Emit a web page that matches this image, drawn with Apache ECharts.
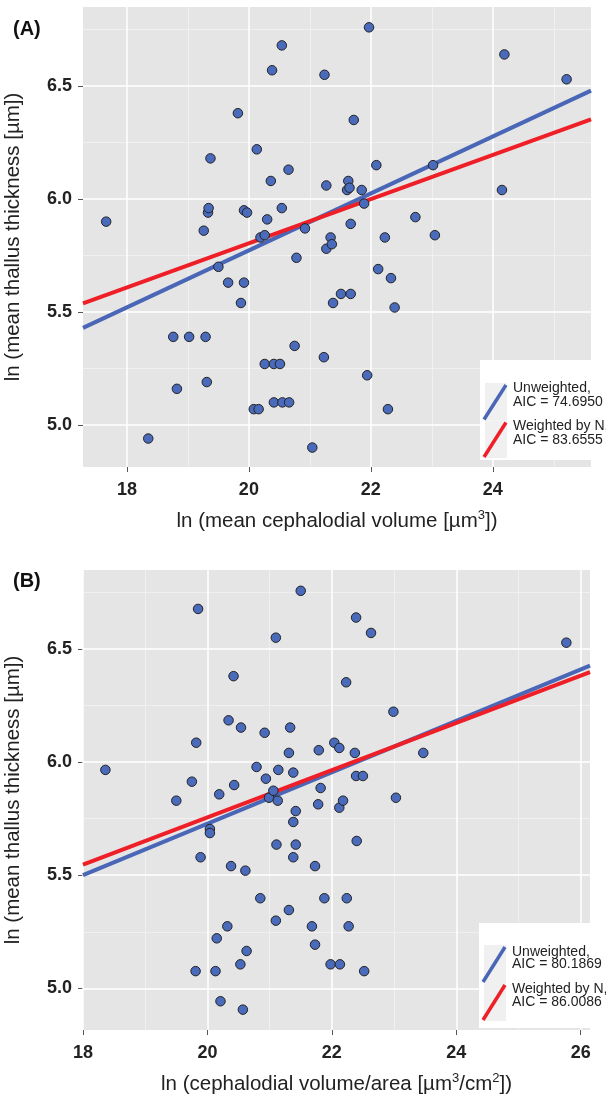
<!DOCTYPE html>
<html>
<head>
<meta charset="utf-8">
<script src="https://cdn.jsdelivr.net/npm/echarts@6/dist/echarts.min.js"></script>
<style>
  html, body { margin: 0; padding: 0; background: #fff; }
  #main { width: 606px; height: 1100px; }
</style>
</head>
<body>
<div id="main"></div>
<script>
// panel A: ln(mean cephalodial volume) vs ln(mean thallus thickness)
var pointsA = [
  [17.66, 5.90], [18.35, 4.94], [18.76, 5.39], [18.82, 5.16], [19.02, 5.39],
  [19.29, 5.39], [19.31, 5.19], [19.26, 5.86], [19.33, 5.94], [19.34, 5.96],
  [19.37, 6.18], [19.50, 5.70], [19.66, 5.63], [19.82, 6.38], [19.87, 5.54],
  [19.92, 5.63], [19.92, 5.95], [19.97, 5.94], [20.08, 5.07], [20.13, 6.22],
  [20.16, 5.07], [20.19, 5.83], [20.26, 5.84], [20.26, 5.27], [20.30, 5.91],
  [20.36, 6.08], [20.38, 6.57], [20.41, 5.27], [20.41, 5.10], [20.51, 5.27],
  [20.54, 6.68], [20.54, 5.96], [20.55, 5.10], [20.65, 6.13], [20.66, 5.10],
  [20.75, 5.35], [20.78, 5.74], [20.92, 5.87], [21.04, 4.90], [21.23, 5.30],
  [21.24, 6.55], [21.27, 6.06], [21.27, 5.78], [21.34, 5.83], [21.36, 5.80],
  [21.38, 5.54], [21.51, 5.58], [21.61, 6.04], [21.63, 6.08], [21.65, 6.05],
  [21.67, 5.58], [21.67, 5.89], [21.72, 6.35], [21.85, 6.04], [21.89, 5.98],
  [21.94, 5.22], [21.97, 6.76], [22.09, 6.15], [22.12, 5.69], [22.23, 5.83],
  [22.28, 5.07], [22.33, 5.65], [22.39, 5.52], [22.73, 5.92], [23.02, 6.15],
  [23.05, 5.84], [24.15, 6.04], [24.19, 6.64], [25.21, 6.53]
];
// panel B: ln(cephalodial volume/area) vs ln(mean thallus thickness)
var pointsB = [
  [18.36, 5.965], [19.50, 5.829], [19.75, 5.913], [19.81, 5.076], [19.82, 6.085],
  [19.85, 6.676], [19.89, 5.579], [20.04, 5.704], [20.04, 5.686], [20.13, 5.076],
  [20.15, 5.221], [20.19, 5.857], [20.21, 4.943], [20.32, 5.274], [20.34, 6.184],
  [20.38, 5.540], [20.42, 6.379], [20.43, 5.898], [20.53, 5.106], [20.54, 6.152],
  [20.57, 4.906], [20.61, 5.520], [20.63, 5.165], [20.79, 5.978], [20.85, 5.398],
  [20.92, 6.129], [20.94, 5.926], [20.99, 5.842], [21.06, 5.873], [21.10, 5.299],
  [21.10, 6.549], [21.11, 5.635], [21.13, 5.829], [21.14, 5.965], [21.31, 5.346],
  [21.31, 6.040], [21.33, 6.152], [21.38, 5.953], [21.38, 5.735], [21.38, 5.579],
  [21.42, 5.783], [21.42, 5.635], [21.50, 6.756], [21.68, 5.274], [21.73, 5.540],
  [21.73, 5.193], [21.78, 5.813], [21.79, 6.052], [21.82, 5.885], [21.88, 5.398],
  [21.98, 5.106], [22.04, 6.085], [22.12, 5.798], [22.12, 6.062], [22.13, 5.106],
  [22.18, 5.829], [22.23, 6.352], [22.24, 5.398], [22.27, 5.274], [22.37, 6.040],
  [22.39, 5.938], [22.39, 6.638], [22.40, 5.651], [22.50, 5.938], [22.52, 5.076],
  [22.63, 6.570], [22.99, 6.222], [23.03, 5.842], [23.47, 6.040], [25.77, 6.527]
];
// fitted lines (end points at the plot edges)
var unweightedA = [[17.28, 5.43], [25.61, 6.48]];
var weightedA = [[17.28, 5.538], [25.61, 6.353]];
var unweightedB = [[18.0, 5.50], [26.15, 6.426]];
var weightedB = [[18.0, 5.547], [26.15, 6.397]];

var xTicksA = [18, 20, 22, 24];
var xMinorA = [19, 21, 23, 25];
var xTicksB = [18, 20, 22, 24, 26];
var xMinorB = [19, 21, 23, 25];
var yTicks = [5.0, 5.5, 6.0, 6.5];
var yMinor = [5.25, 5.75, 6.25, 6.75];

var legendA = ['Unweighted,', 'AIC = 74.6950', 'Weighted by N,', 'AIC = 83.6555'];
var legendB = ['Unweighted,', 'AIC = 80.1869', 'Weighted by N,', 'AIC = 86.0086'];

var FONT = 'Liberation Sans';
var BLUE = '#4a67b7';
var RED = '#ee1f26';
var PT = '#4a6bbb';

var myChart = echarts.init(document.getElementById('main'));

// 背景网格线 (ggplot 风格)
function gridLines(xMajor, xMinor) {
  var d = [];
  xMinor.forEach(function(v) { d.push({ xAxis: v, lineStyle: { color: '#f3f3f3', width: 0.8, type: 'solid' } }); });
  yMinor.forEach(function(v) { d.push({ yAxis: v, lineStyle: { color: '#f3f3f3', width: 0.8, type: 'solid' } }); });
  xMajor.forEach(function(v) { d.push({ xAxis: v, lineStyle: { color: '#ffffff', width: 1.5, type: 'solid' } }); });
  yTicks.forEach(function(v) { d.push({ yAxis: v, lineStyle: { color: '#ffffff', width: 1.5, type: 'solid' } }); });
  return { silent: true, symbol: 'none', z: 1, animation: false, label: { show: false }, emphasis: { disabled: true }, data: d };
}

function xAxis(gi, min, max, ticks, name) {
  return {
    type: 'value', gridIndex: gi, min: min, max: max,
    name: name, nameLocation: 'middle', nameGap: 42,
    nameTextStyle: { fontFamily: FONT, fontSize: 20.5, lineHeight: 24, color: '#222',
      rich: { sup: { fontFamily: FONT, fontSize: 13, color: '#222', verticalAlign: 'top', lineHeight: 12 } } },
    axisLine: { show: false }, splitLine: { show: false },
    axisTick: { show: true, length: 5, customValues: ticks, lineStyle: { color: '#555', width: 1 } },
    axisLabel: { customValues: ticks, margin: 14, fontFamily: FONT, fontSize: 18, fontWeight: 'bold', color: '#222',
      formatter: function(v) { return String(Math.round(v)); } }
  };
}

function yAxis(gi, min, max) {
  return {
    type: 'value', gridIndex: gi, min: min, max: max,
    name: 'ln (mean thallus thickness [µm])', nameLocation: 'middle', nameGap: 59,
    nameTextStyle: { fontFamily: FONT, fontSize: 20.5, color: '#222' },
    axisLine: { show: false }, splitLine: { show: false },
    axisTick: { show: true, length: 5, customValues: yTicks, lineStyle: { color: '#555', width: 1 } },
    axisLabel: { customValues: yTicks, margin: 11, fontFamily: FONT, fontSize: 18, fontWeight: 'bold', color: '#222',
      formatter: function(v) { return v.toFixed(1); } }
  };
}

function scatter(gi, data, xMajor, xMinor) {
  return {
    type: 'scatter', xAxisIndex: gi, yAxisIndex: gi, data: data, z: 3,
    symbolSize: 9.5, itemStyle: { color: PT, borderColor: '#222', borderWidth: 1, opacity: 1 },
    markLine: gridLines(xMajor, xMinor)
  };
}

function fit(gi, data, color) {
  return {
    type: 'line', xAxisIndex: gi, yAxisIndex: gi, data: data, z: 2,
    symbol: 'none', lineStyle: { color: color, width: 4 }, silent: true
  };
}

// 图例 (白底框 + 斜线)
function legendBox(x, y, h, keyTop, keyH, texts, textY) {
  var els = [
    { type: 'rect', z: 100, shape: { x: x, y: y, width: 591 - x, height: h }, style: { fill: '#fff' } },
    { type: 'rect', z: 101, shape: { x: x + 5, y: keyTop, width: 22, height: keyH }, style: { fill: '#f0f0f0' } },
    { type: 'rect', z: 101, shape: { x: x + 5, y: keyTop + keyH, width: 22, height: keyH }, style: { fill: '#f0f0f0' } },
    { type: 'line', z: 102, shape: { x1: x + 4, y1: keyTop + keyH - 1, x2: x + 26, y2: keyTop + 2 }, style: { stroke: BLUE, lineWidth: 3.5 } },
    { type: 'line', z: 102, shape: { x1: x + 4, y1: keyTop + 2 * keyH - 1, x2: x + 26, y2: keyTop + keyH + 2 }, style: { stroke: RED, lineWidth: 3.5 } }
  ];
  texts.forEach(function(t, i) {
    els.push({ type: 'text', z: 103, x: x + 33, y: textY[i],
      style: { text: t, fill: '#222', font: '14px "Liberation Sans"', verticalAlign: 'middle', align: 'left' } });
  });
  return { type: 'group', z: 100, children: els };
}

var option = {
  backgroundColor: '#fff',
  animation: false,
  title: [
    { text: '(A)', left: 8, top: 14, textStyle: { fontFamily: FONT, fontSize: 20, fontWeight: 'bold', color: '#111' } },
    { text: '(B)', left: 8, top: 566, textStyle: { fontFamily: FONT, fontSize: 20, fontWeight: 'bold', color: '#111' } }
  ],
  grid: [
    { left: 83, top: 7, width: 508, height: 460, show: true, backgroundColor: '#e5e5e6', borderWidth: 0, outerBoundsMode: 'none' },
    { left: 83, top: 570, width: 507, height: 460, show: true, backgroundColor: '#e5e5e6', borderWidth: 0, outerBoundsMode: 'none' }
  ],
  xAxis: [
    xAxis(0, 17.28, 25.61, xTicksA, 'ln (mean cephalodial volume [µm{sup|3}])'),
    xAxis(1, 18.0, 26.15, xTicksB, 'ln (cephalodial volume/area [µm{sup|3}/cm{sup|2}])')
  ],
  yAxis: [yAxis(0, 4.814, 6.85), yAxis(1, 4.816, 6.848)],
  series: [
    scatter(0, pointsA, xTicksA, xMinorA),
    fit(0, unweightedA, BLUE),
    fit(0, weightedA, RED),
    scatter(1, pointsB, xTicksB, xMinorB),
    fit(1, unweightedB, BLUE),
    fit(1, weightedB, RED)
  ],
  graphic: [
    legendBox(480, 360, 100, 383, 37.5, legendA, [388, 402, 426, 440]),
    legendBox(479, 923, 105, 945, 38, legendB, [952, 964.5, 989, 1002])
  ]
};
myChart.setOption(option);
</script>
</body>
</html>
